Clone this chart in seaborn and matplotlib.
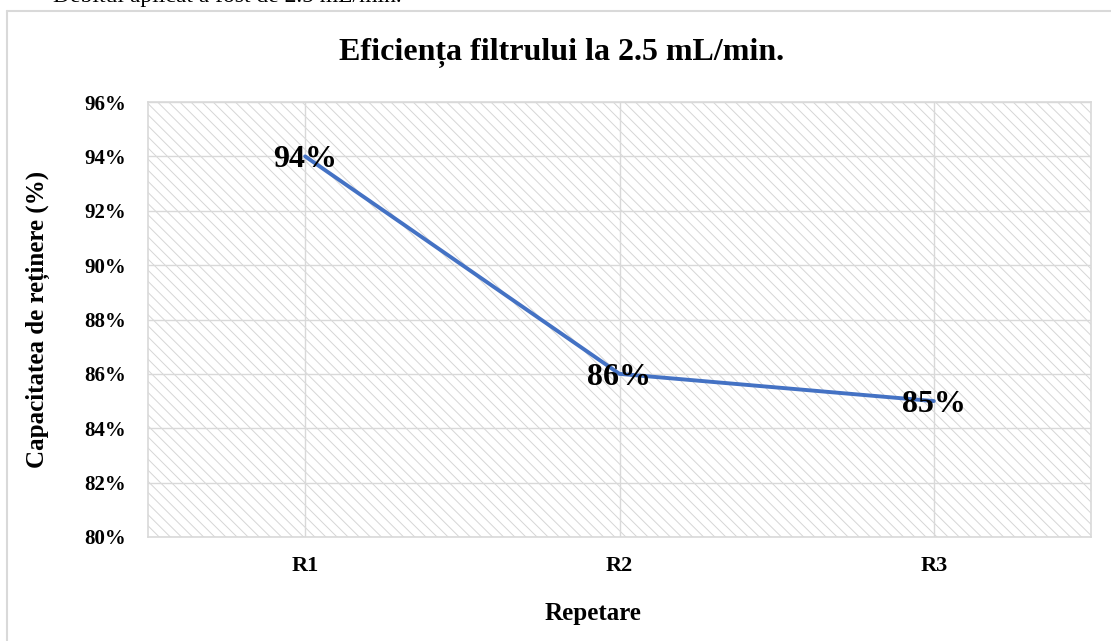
import matplotlib
matplotlib.use("Agg")
import matplotlib.pyplot as plt
import seaborn as sns
from matplotlib.patches import Rectangle
from matplotlib.lines import Line2D

categories = ["R1", "R2", "R3"]
values = [94, 86, 85]
yticks = [80, 82, 84, 86, 88, 90, 92, 94, 96]
title = "Eficiența filtrului la 2.5 mL/min."
xlabel = "Repetare"
ylabel = "Capacitatea de reținere (%)"
top_text = "Debitul aplicat a fost de 2.5 mL/min."

sns.set_theme(style="white")
plt.rcParams["font.family"] = ["Liberation Serif", "DejaVu Serif"]
plt.rcParams["hatch.linewidth"] = 0.7
plt.rcParams["text.color"] = "black"
plt.rcParams["xtick.color"] = "black"
plt.rcParams["ytick.color"] = "black"
plt.rcParams["xtick.labelcolor"] = "black"
plt.rcParams["ytick.labelcolor"] = "black"

W, H = 1111, 641
fig = plt.figure(figsize=(W / 100, H / 100), dpi=100)
fig.patch.set_facecolor("white")

def fx(px):
    return px / W

def fy(py):
    return 1 - py / H

# chart border (partially cut off)
fig.add_artist(Line2D([fx(7), fx(1111)], [fy(11), fy(11)], color="#d9d9d9", lw=1.5, transform=fig.transFigure))
fig.add_artist(Line2D([fx(7), fx(7)], [fy(11), fy(641)], color="#d9d9d9", lw=1.5, transform=fig.transFigure))

# document text above chart (cut off at the top edge)
fig.text(fx(53), fy(2), top_text, fontsize=17, ha="left", va="baseline", color="black")

ax = fig.add_axes([fx(148), fy(537), (1091 - 148) / W, (537 - 102) / H])
ax.set_facecolor("white")
ax.add_patch(Rectangle((0, 0), 1, 1, transform=ax.transAxes, facecolor="white",
                       edgecolor="#d6d6d6", hatch="\\\\\\", linewidth=0, zorder=0))

sns.lineplot(x=categories, y=values, ax=ax, color="#4472C4", linewidth=2.8, zorder=3)

ax.set_xlim(-0.5, 2.5)
ax.set_ylim(80, 96)
ax.set_yticks(yticks)
ax.set_yticklabels([f"{v}%" for v in yticks], fontsize=15, fontweight="bold", color="black")
ax.set_xticks(range(len(categories)))
ax.set_xticklabels(categories, fontsize=16, fontweight="bold", color="black")
ax.tick_params(axis="y", length=0, pad=16)
ax.tick_params(axis="x", length=0, pad=14)
ax.grid(True, color="#d9d9d9", linewidth=1.0, zorder=1)
ax.set_axisbelow(True)
for s in ax.spines.values():
    s.set_color("#d9d9d9")
    s.set_linewidth(1.2)
ax.set_xlabel("")
ax.set_ylabel("")

for i, v in enumerate(values):
    ax.text(i, v, f"{v}%", ha="center", va="center_baseline", fontsize=23,
            fontweight="bold", color="black", zorder=4)

fig.text(fx(562), fy(60), title, fontsize=23, fontweight="bold", ha="center", va="baseline", color="black")
fig.text(fx(593), fy(620), xlabel, fontsize=18, fontweight="bold", ha="center", va="baseline", color="black")
fig.text(fx(38), fy(319.5), ylabel, fontsize=18, fontweight="bold", ha="center", va="center",
         rotation=90, color="black")

fig.savefig("out.png", dpi=100)
